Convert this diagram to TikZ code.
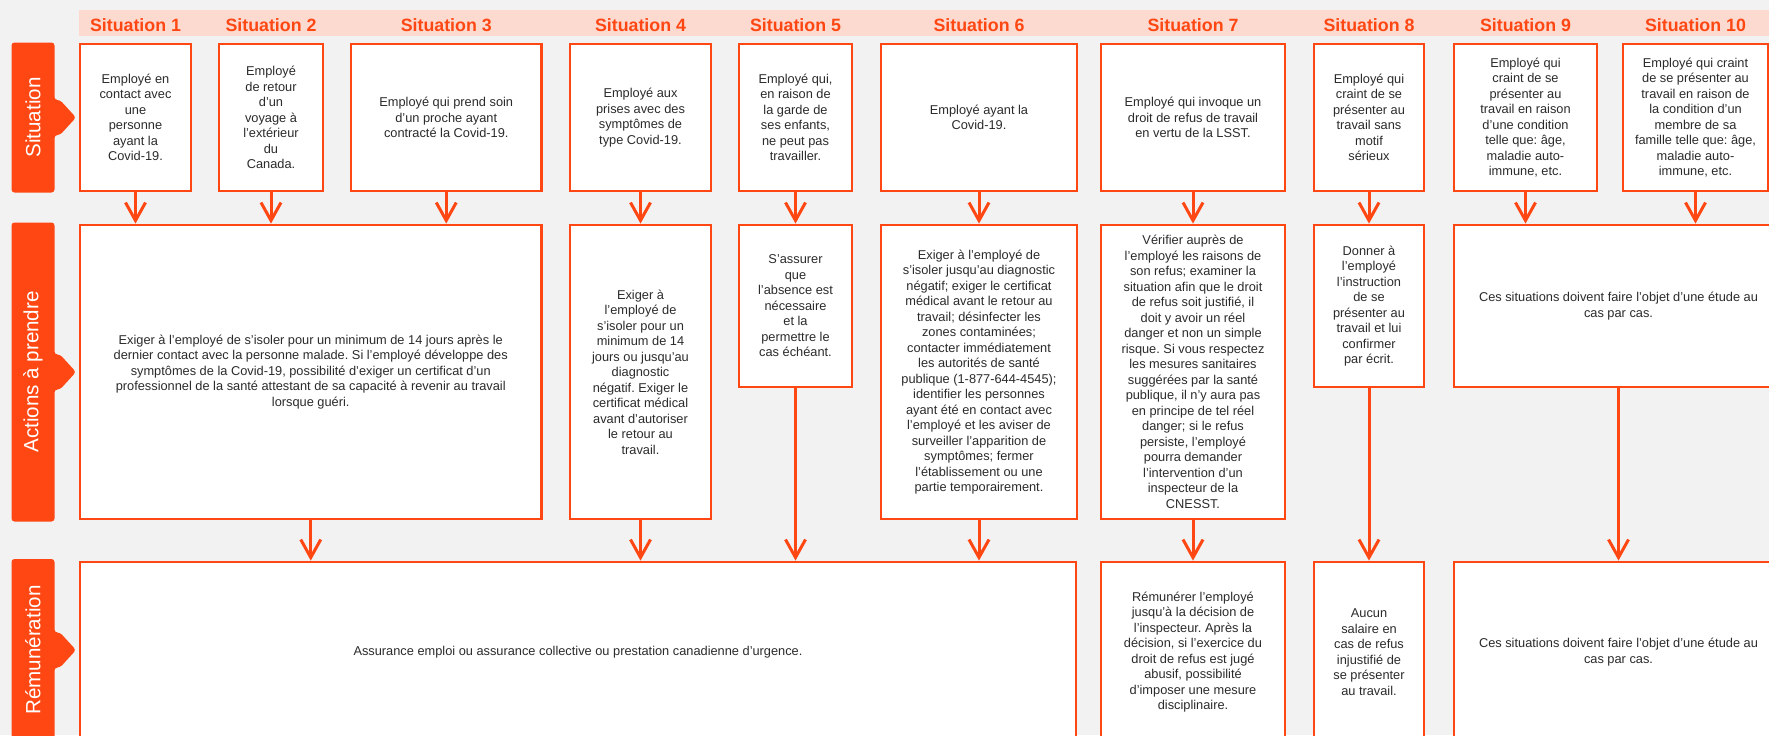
\documentclass[tikz,border=0pt]{standalone}
\usepackage{fontspec}
\setmainfont{Liberation Sans}
\usetikzlibrary{arrows.meta}
\frenchspacing
\definecolor{org}{HTML}{FF4713}
\definecolor{pinkband}{HTML}{FDDAD0}
\definecolor{bgc}{HTML}{F2F2F2}
\definecolor{txt}{HTML}{2B2B2B}
\newcommand\mkbox[6]{\node[box, minimum width={(#4-#2)*0.5pt}, minimum height={(#5-#3)*0.5pt}] (#1) at ({(#2+#4)/2},{(#3+#5)/2}) {#6};}
\newcommand\mklabel[4]{%
  \fill[org, rounded corners=1.5pt] (11.5,#2) -- (54.5,#2) -- (54.5,{(#2+#3)/2-17.5}) -- (60,{(#2+#3)/2-17.5}) -- (76,{(#2+#3)/2}) -- (60,{(#2+#3)/2+17.5}) -- (54.5,{(#2+#3)/2+17.5}) -- (54.5,#3) -- (11.5,#3) -- cycle;
  \node[lbl] (#1) at (33,{(#2+#3)/2}) {#4};}
\begin{document}
\begin{tikzpicture}[x=0.5pt,y=-0.5pt,
  box/.style={draw=org, line width=1.4pt, fill=white, inner sep=0pt, text=txt,
    font=\fontsize{6.4}{7.75}\selectfont, align=center},
  lbl/.style={rotate=90, text=white, font=\fontsize{10.3}{12}\selectfont, inner sep=0pt},
  hdr/.style={text=org, font=\bfseries\fontsize{8.9}{10}\selectfont, inner sep=0pt, anchor=base},
  arr/.style={draw=org, line width=1.5pt, -{Straight Barb[length=9pt,width=10pt]}}]
\useasboundingbox (0,0) rectangle (1769,735);
\clip (0,0) rectangle (1769,735);
\fill[bgc] (0,0) rectangle (1769,735);
\fill[pinkband] (78.5,10) rectangle (1775,36);
\coordinate (hl) at (0,31.5);
% row labels
\mklabel{l1}{42.5}{192.5}{Situation}
\mklabel{l2}{222.5}{521.5}{Actions à prendre}
\mklabel{l3}{559}{741}{Rémunération}
% row 1
\mkbox{b1}{80}{44}{191}{191}{Employé en\\contact avec\\une\\personne\\ayant la\\Covid-19.}
\mkbox{b2}{219}{44}{323}{191}{Employé\\de retour\\d'un\\voyage à\\l'extérieur\\du\\Canada.}
\mkbox{b3}{351}{44}{541.5}{191}{Employé qui prend soin\\d'un proche ayant\\contracté la Covid-19.}
\mkbox{b4}{570}{44}{711}{191}{Employé aux\\prises avec des\\symptômes de\\type Covid-19.}
\mkbox{b5}{739}{44}{852}{191}{Employé qui,\\en raison de\\la garde de\\ses enfants,\\ne peut pas\\travailler.}
\mkbox{b6}{881}{44}{1077}{191}{Employé ayant la\\Covid-19.}
\mkbox{b7}{1101}{44}{1285}{191}{Employé qui invoque un\\droit de refus de travail\\en vertu de la LSST.}
\mkbox{b8}{1314}{44}{1424}{191}{Employé qui\\craint de se\\présenter au\\travail sans\\motif\\sérieux}
\mkbox{b9}{1454}{44}{1597}{191}{Employé qui\\craint de se\\présenter au\\travail en raison\\d'une condition\\telle que: âge,\\maladie auto-\\immune, etc.}
\mkbox{b10}{1623}{44}{1768}{191}{Employé qui craint\\de se présenter au\\travail en raison de\\la condition d'un\\membre de sa\\famille telle que: âge,\\maladie auto-\\immune, etc.}
% headers
\node[hdr] (h1) at (b1 |- hl) {Situation 1};
\node[hdr] (h2) at (b2 |- hl) {Situation 2};
\node[hdr] (h3) at (b3 |- hl) {Situation 3};
\node[hdr] (h4) at (b4 |- hl) {Situation 4};
\node[hdr] (h5) at (b5 |- hl) {Situation 5};
\node[hdr] (h6) at (b6 |- hl) {Situation 6};
\node[hdr] (h7) at (b7 |- hl) {Situation 7};
\node[hdr] (h8) at (b8 |- hl) {Situation 8};
\node[hdr] (h9) at (b9 |- hl) {Situation 9};
\node[hdr] (h10) at (b10 |- hl) {Situation 10};
% row 2
\mkbox{a1}{80}{225}{541.5}{519}{Exiger à l'employé de s'isoler pour un minimum de 14 jours après le\\dernier contact avec la personne malade. Si l'employé développe des\\symptômes de la Covid-19, possibilité d'exiger un certificat d'un\\professionnel de la santé attestant de sa capacité à revenir au travail\\lorsque guéri.}
\mkbox{a4}{570}{225}{711}{519}{Exiger à\\l'employé de\\s'isoler pour un\\minimum de 14\\jours ou jusqu'au\\diagnostic\\négatif. Exiger le\\certificat médical\\avant d'autoriser\\le retour au\\travail.}
\mkbox{a5}{739}{225}{852}{387}{S'assurer\\que\\l'absence est\\nécessaire\\et la\\permettre le\\cas échéant.}
\mkbox{a6}{881}{225}{1077}{519}{Exiger à l'employé de\\s'isoler jusqu'au diagnostic\\négatif; exiger le certificat\\médical avant le retour au\\travail; désinfecter les\\zones contaminées;\\contacter immédiatement\\les autorités de santé\\publique (1-877-644-4545);\\identifier les personnes\\ayant été en contact avec\\l'employé et les aviser de\\surveiller l'apparition de\\symptômes; fermer\\l'établissement ou une\\partie temporairement.}
\mkbox{a7}{1101}{225}{1285}{519}{Vérifier auprès de\\l'employé les raisons de\\son refus; examiner la\\situation afin que le droit\\de refus soit justifié, il\\doit y avoir un réel\\danger et non un simple\\risque. Si vous respectez\\les mesures sanitaires\\suggérées par la santé\\publique, il n'y aura pas\\en principe de tel réel\\danger; si le refus\\persiste, l'employé\\pourra demander\\l'intervention d'un\\inspecteur de la\\CNESST.}
\mkbox{a8}{1314}{225}{1424}{387}{Donner à\\l'employé\\l'instruction\\de se\\présenter au\\travail et lui\\confirmer\\par écrit.}
\mkbox{a9}{1454}{225}{1783}{387}{Ces situations doivent faire l'objet d'une étude au\\cas par cas.}
% row 3
\mkbox{r1}{80}{562}{1076}{742}{Assurance emploi ou assurance collective ou prestation canadienne d'urgence.}
\mkbox{r7}{1101}{562}{1285}{742}{Rémunérer l'employé\\jusqu'à la décision de\\l'inspecteur. Après la\\décision, si l'exercice du\\droit de refus est jugé\\abusif, possibilité\\d'imposer une mesure\\disciplinaire.}
\mkbox{r8}{1314}{562}{1424}{742}{Aucun\\salaire en\\cas de refus\\injustifié de\\se présenter\\au travail.}
\mkbox{r9}{1454}{562}{1783}{742}{Ces situations doivent faire l'objet d'une étude au\\cas par cas.}
% arrows row 1 -> row 2
\draw[arr] (b1.south) -- (b1.south |- a1.north);
\draw[arr] (b2.south) -- (b2.south |- a1.north);
\draw[arr] (b3.south) -- (b3.south |- a1.north);
\draw[arr] (b4.south) -- (a4.north);
\draw[arr] (b5.south) -- (a5.north);
\draw[arr] (b6.south) -- (a6.north);
\draw[arr] (b7.south) -- (a7.north);
\draw[arr] (b8.south) -- (a8.north);
\draw[arr] (b9.south) -- (b9.south |- a9.north);
\draw[arr] (b10.south) -- (b10.south |- a9.north);
% arrows row 2 -> row 3
\draw[arr] (a1.south) -- (a1.south |- r1.north);
\draw[arr] (a4.south) -- (a4.south |- r1.north);
\draw[arr] (a5.south) -- (a5.south |- r1.north);
\draw[arr] (a6.south) -- (a6.south |- r1.north);
\draw[arr] (a7.south) -- (r7.north);
\draw[arr] (a8.south) -- (r8.north);
\draw[arr] (a9.south) -- (r9.north);
\end{tikzpicture}
\end{document}
